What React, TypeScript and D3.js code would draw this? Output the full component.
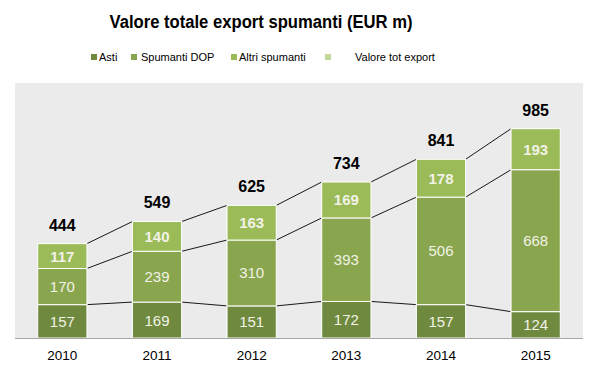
import React from 'react';
import * as d3 from 'd3';

const years = ['2010', '2011', '2012', '2013', '2014', '2015'];
const asti = [157, 169, 151, 172, 157, 124];
const dop = [170, 239, 310, 393, 506, 668];
const altri = [117, 140, 163, 169, 178, 193];
const totals = [444, 549, 625, 734, 841, 985];

const seriesKeys = ['asti', 'dop', 'altri'];
const colors = ['#6f8a3f', '#89a64f', '#9bbb59'];
const legendItems = ['Asti', 'Spumanti DOP', 'Altri spumanti', 'Valore tot export'];
const legendColors = ['#6f8a3f', '#89a64f', '#9bbb59', '#c3d69b'];

const W = 598;
const H = 372;
const plot = { left: 15, right: 583, top: 83, bottom: 338 };

export default function App() {
  const rows = years.map((y, i) => ({ year: y, asti: asti[i], dop: dop[i], altri: altri[i] }));
  const stacked = d3.stack<any>().keys(seriesKeys)(rows);

  const x = d3.scaleBand().domain(years).range([plot.left, plot.right]).paddingInner(0.48).paddingOuter(0.24);
  const y = d3.scaleLinear().domain([0, 1200]).range([plot.bottom, plot.top]);
  const bw = x.bandwidth();

  const font = 'Arial, "Liberation Sans", sans-serif';
  const legendX = [91, 131, 231, 325];
  const legendTextX = [99, 141, 239, 355];

  return (
    <svg width={W} height={H} style={{ position: 'absolute', left: 0, top: 0 }} fontFamily={font}>
      <rect width={W} height={H} fill="#fff" />
      <text x={261} y={28} textAnchor="middle" fontSize={18} fontWeight="bold" fill="#000" textLength={303} lengthAdjust="spacingAndGlyphs">
        Valore totale export spumanti (EUR m)
      </text>
      {legendItems.map((name, i) => (
        <g key={name}>
          <rect x={legendX[i]} y={54} width={6} height={6} fill={legendColors[i]} />
          <text x={legendTextX[i]} y={61} fontSize={11} fill="#000">{name}</text>
        </g>
      ))}
      <rect x={plot.left} y={plot.top} width={plot.right - plot.left} height={plot.bottom - plot.top} fill="#ebebeb" />
      {/* connector lines between bars */}
      {stacked.map((s) =>
        years.slice(0, -1).map((yr, i) => (
          <line
            key={s.key + yr}
            x1={(x(yr) as number) + bw}
            y1={y(s[i][1])}
            x2={x(years[i + 1]) as number}
            y2={y(s[i + 1][1])}
            stroke="#000"
            strokeWidth={0.9}
          />
        ))
      )}
      {stacked.map((s, si) =>
        s.map((d, i) => (
          <g key={s.key + i}>
            <rect
              x={x(years[i])}
              y={y(d[1])}
              width={bw}
              height={y(d[0]) - y(d[1])}
              fill={colors[si]}
              stroke="#fff"
              strokeWidth={1}
            />
            <text
              x={(x(years[i]) as number) + bw / 2}
              y={(y(d[0]) + y(d[1])) / 2 + 5.5}
              textAnchor="middle"
              fontSize={15}
              fontWeight={si === 2 ? 'bold' : 'normal'}
              fill="#f2f2e6"
            >
              {d[1] - d[0]}
            </text>
          </g>
        ))
      )}
      {totals.map((t, i) => (
        <text key={'t' + i} x={(x(years[i]) as number) + bw / 2} y={y(t) - 13} textAnchor="middle" fontSize={16} fontWeight="bold" fill="#000">
          {t}
        </text>
      ))}
      <line x1={plot.left} x2={plot.right} y1={plot.bottom + 0.5} y2={plot.bottom + 0.5} stroke="#a6a6a6" strokeWidth={1} />
      {years.map((yr) => (
        <text key={yr} x={(x(yr) as number) + bw / 2} y={360} textAnchor="middle" fontSize={13.5} fill="#000">
          {yr}
        </text>
      ))}
    </svg>
  );
}
